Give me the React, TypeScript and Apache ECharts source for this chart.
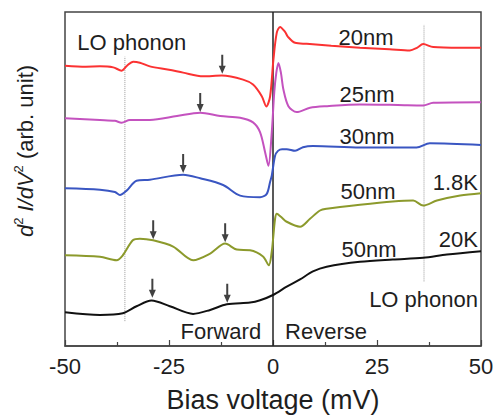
import React, { useEffect, useRef } from 'react';
import * as echarts from 'echarts';

// Bias voltage (mV) vs d2I/dV2 (arb. unit, offset curves)
const curve20nm: number[][] = [
  [-50, 282], [-45, 281], [-41.6, 281.3], [-38.4, 280.3], [-36.4, 277], [-35.1, 282], [-33.6, 286], [-32, 285],
  [-29.6, 281.3], [-25, 278], [-21.6, 275], [-16.8, 271.3], [-12.3, 272], [-7.2, 268], [-4.8, 263], [-2.7, 251.3],
  [-1.6, 241], [-0.7, 251], [0.1, 288], [0.9, 315], [1.7, 321], [2.9, 316], [3.6, 311], [5.3, 305], [8.1, 304],
  [14, 302], [20.9, 300], [28, 298.5], [32.9, 297.3], [34.6, 300], [36.1, 303.7], [38.5, 300.7], [45, 300], [50, 300],
];
const curve25nm: number[][] = [
  [-50, 229], [-41.6, 227.3], [-38, 226.5], [-36.4, 224.7], [-34.4, 227.3], [-29.6, 227.3], [-23.1, 231.3],
  [-17.5, 234.7], [-12.7, 231.3], [-7.9, 229.7], [-4.8, 225], [-3.1, 215], [-1.9, 195], [-1.1, 181.3], [-0.3, 215],
  [0.3, 255], [0.8, 275], [1.3, 284.7], [1.9, 275], [2.5, 258], [3.7, 241.3], [5.7, 235.3], [8.9, 239.7], [13, 241.3],
  [20.9, 243], [30, 242.5], [36.1, 242], [38.5, 244.7], [50, 245.3],
];
const curve30nm: number[][] = [
  [-50, 158.7], [-41.6, 157.3], [-38, 155], [-36.8, 152], [-35.2, 156.3], [-32.8, 166.3], [-29.6, 167.3],
  [-21.6, 172.3], [-17.5, 168.7], [-12, 162], [-7.9, 151.3], [-3.1, 149.7], [-1.5, 153], [-0.7, 165], [-0.3, 171.3],
  [0.5, 191.3], [1.2, 196.3], [2.2, 198], [3.3, 198], [5.3, 196.3], [7.2, 200], [9.6, 201.3], [20.9, 199.7],
  [34.5, 199.7], [37.7, 204], [50, 202.3],
];
const curve50nm18K: number[][] = [
  [-50, 91.3], [-41.6, 89.7], [-37.6, 86.3], [-36.1, 91.3], [-33.7, 106.3], [-32, 108], [-28.8, 106.3], [-24, 100],
  [-19.2, 86.3], [-15.1, 93], [-11.5, 103], [-8.7, 97], [-5.5, 96.3], [-2.4, 90], [-1.0, 81.3], [-0.3, 95],
  [0.1, 111.3], [0.5, 128], [0.9, 133], [1.9, 130], [3.3, 125], [6.5, 120], [8.9, 128], [11.3, 136.3], [12.9, 138],
  [20.9, 142], [28.8, 145.3], [33.7, 146.3], [36.1, 141.3], [39.4, 146.3], [45, 151.3], [50, 153.7],
];
const curve50nm20K: number[][] = [
  [-50, 34], [-41.6, 31.3], [-36.1, 33], [-32.8, 40], [-29.2, 45.7], [-24.8, 40], [-19.2, 32.3], [-15.1, 36.3],
  [-11.1, 42], [-5.5, 43.7], [-3.1, 46], [0, 51.3], [3.3, 59.7], [6.5, 67], [9.6, 75], [12.9, 79.7], [20.9, 84.7],
  [28.8, 87], [36.1, 88.7], [41.8, 92], [50, 95.3],
];

// arrow markers (mV, arb. unit of arrow centre)
const arrowX = [-12.2, -17.5, -21.6, -28.8, -11.5, -29.0, -11.0];
const arrowY = [283.5, 245, 183.5, 117, 114, 58, 53];

// reference lines
const loPhononLeft: number[][] = [[-35.6, 25], [-35.6, 291]];
const loPhononRight: number[][] = [[36.3, 65], [36.3, 323]];
const zeroBias: number[][] = [[0, 0], [0, 336]];

const xTicks = [-50, -25, 0, 25, 50];

const FONT = '"Liberation Sans", Arial, Helvetica, sans-serif';

const curveColors = ['#fb3232', '#c452bf', '#3a56c2', '#8c9a2c', '#111111'];
const curves = [curve20nm, curve25nm, curve30nm, curve50nm18K, curve50nm20K];

const labels: { t: string; x: number; y: number; align?: string }[] = [
  { t: 'LO phonon', x: 131.7, y: 42.4 },
  { t: '20nm', x: 366, y: 37.4 },
  { t: '25nm', x: 367, y: 94 },
  { t: '30nm', x: 367, y: 136.4 },
  { t: '50nm', x: 368, y: 191.4 },
  { t: '1.8K', x: 478, y: 182.4, align: 'right' },
  { t: '50nm', x: 369, y: 249.7 },
  { t: '20K', x: 478, y: 239, align: 'right' },
  { t: 'LO phonon', x: 478, y: 299, align: 'right' },
  { t: 'Forward', x: 220.8, y: 331.7 },
  { t: 'Reverse', x: 326, y: 331.7 },
];

export default function App() {
  const ref = useRef<HTMLDivElement>(null);
  useEffect(() => {
    const chart = echarts.init(ref.current!, null, { renderer: 'svg' });
    const lineSeries = curves.map((d, i) => ({
      type: 'line',
      data: d,
      showSymbol: false,
      symbol: 'none',
      smooth: 0.3,
      silent: true,
      lineStyle: { color: curveColors[i], width: 2 },
      z: 3,
    }));
    const refLine = (d: number[][], color: string, type: any, width: number) => ({
      type: 'line',
      data: d,
      showSymbol: false,
      symbol: 'none',
      silent: true,
      lineStyle: { color, type, width },
      z: 2,
    });
    chart.setOption({
      animation: false,
      backgroundColor: '#fff',
      grid: {
        left: 65, right: 19, top: 12, bottom: 70,
        show: true, borderColor: '#444', borderWidth: 1.5, backgroundColor: 'transparent',
      },
      xAxis: {
        type: 'value', min: -50, max: 50, interval: 25,
        axisLine: { lineStyle: { color: '#444', width: 1.5 } },
        axisTick: { inside: true, length: 6, lineStyle: { color: '#444', width: 1.2 } },
        minorTick: { show: true, splitNumber: 2, length: 4, lineStyle: { color: '#444', width: 1.2 } },
        splitLine: { show: false },
        minorSplitLine: { show: false },
        axisLabel: {
          fontSize: 22, color: '#1e1e1e', margin: 9, fontFamily: FONT,
          formatter: (v: number) => (xTicks.includes(v) ? String(v) : ''),
        },
        name: 'Bias voltage (mV)',
        nameLocation: 'middle',
        nameGap: 40,
        nameTextStyle: { fontSize: 27, color: '#1e1e1e', fontFamily: FONT },
      },
      yAxis: { type: 'value', min: 0, max: 336, show: false },
      series: [
        refLine(loPhononLeft, '#9a9a9a', 'dotted', 1),
        refLine(loPhononRight, '#9a9a9a', 'dotted', 1),
        refLine(zeroBias, '#222', 'solid', 1.5),
        ...lineSeries,
        {
          type: 'scatter',
          data: arrowX.map((x, i) => [x, arrowY[i]]),
          symbol: 'path://M2.5,0 L4.5,0 L4.5,11 L7,11 L3.5,19 L0,11 L2.5,11 Z',
          symbolSize: [7, 19],
          symbolKeepAspect: false,
          itemStyle: { color: '#111' },
          silent: true,
          z: 5,
        },
      ],
      graphic: [
        ...labels.map((l) => ({
          type: 'text',
          x: l.x,
          y: l.y,
          silent: true,
          style: {
            text: l.t,
            fontSize: 22,
            fontFamily: FONT,
            fill: '#1e1e1e',
            align: l.align || 'center',
            verticalAlign: 'middle',
          },
        })),
        {
          type: 'text',
          x: 25,
          y: 151,
          rotation: Math.PI / 2,
          silent: true,
          style: {
            text: '{i|d}{s|2}{i| I/dV}{s|2}{n| (arb. unit)}',
            align: 'center',
            verticalAlign: 'middle',
            fill: '#1e1e1e',
            fontFamily: FONT,
            fontSize: 22,
            rich: {
              i: { fontSize: 22, fontStyle: 'italic', fontFamily: FONT, fill: '#1e1e1e', lineHeight: 26 },
              s: { fontSize: 13, fontFamily: FONT, fill: '#1e1e1e', verticalAlign: 'top', lineHeight: 26 },
              n: { fontSize: 22, fontFamily: FONT, fill: '#1e1e1e', lineHeight: 26 },
            },
          },
        },
      ],
    });
    return () => chart.dispose();
  }, []);
  return (
    <div
      ref={ref}
      style={{ position: 'fixed', left: 0, top: 0, width: 500, height: 418, background: '#fff' }}
    />
  );
}
